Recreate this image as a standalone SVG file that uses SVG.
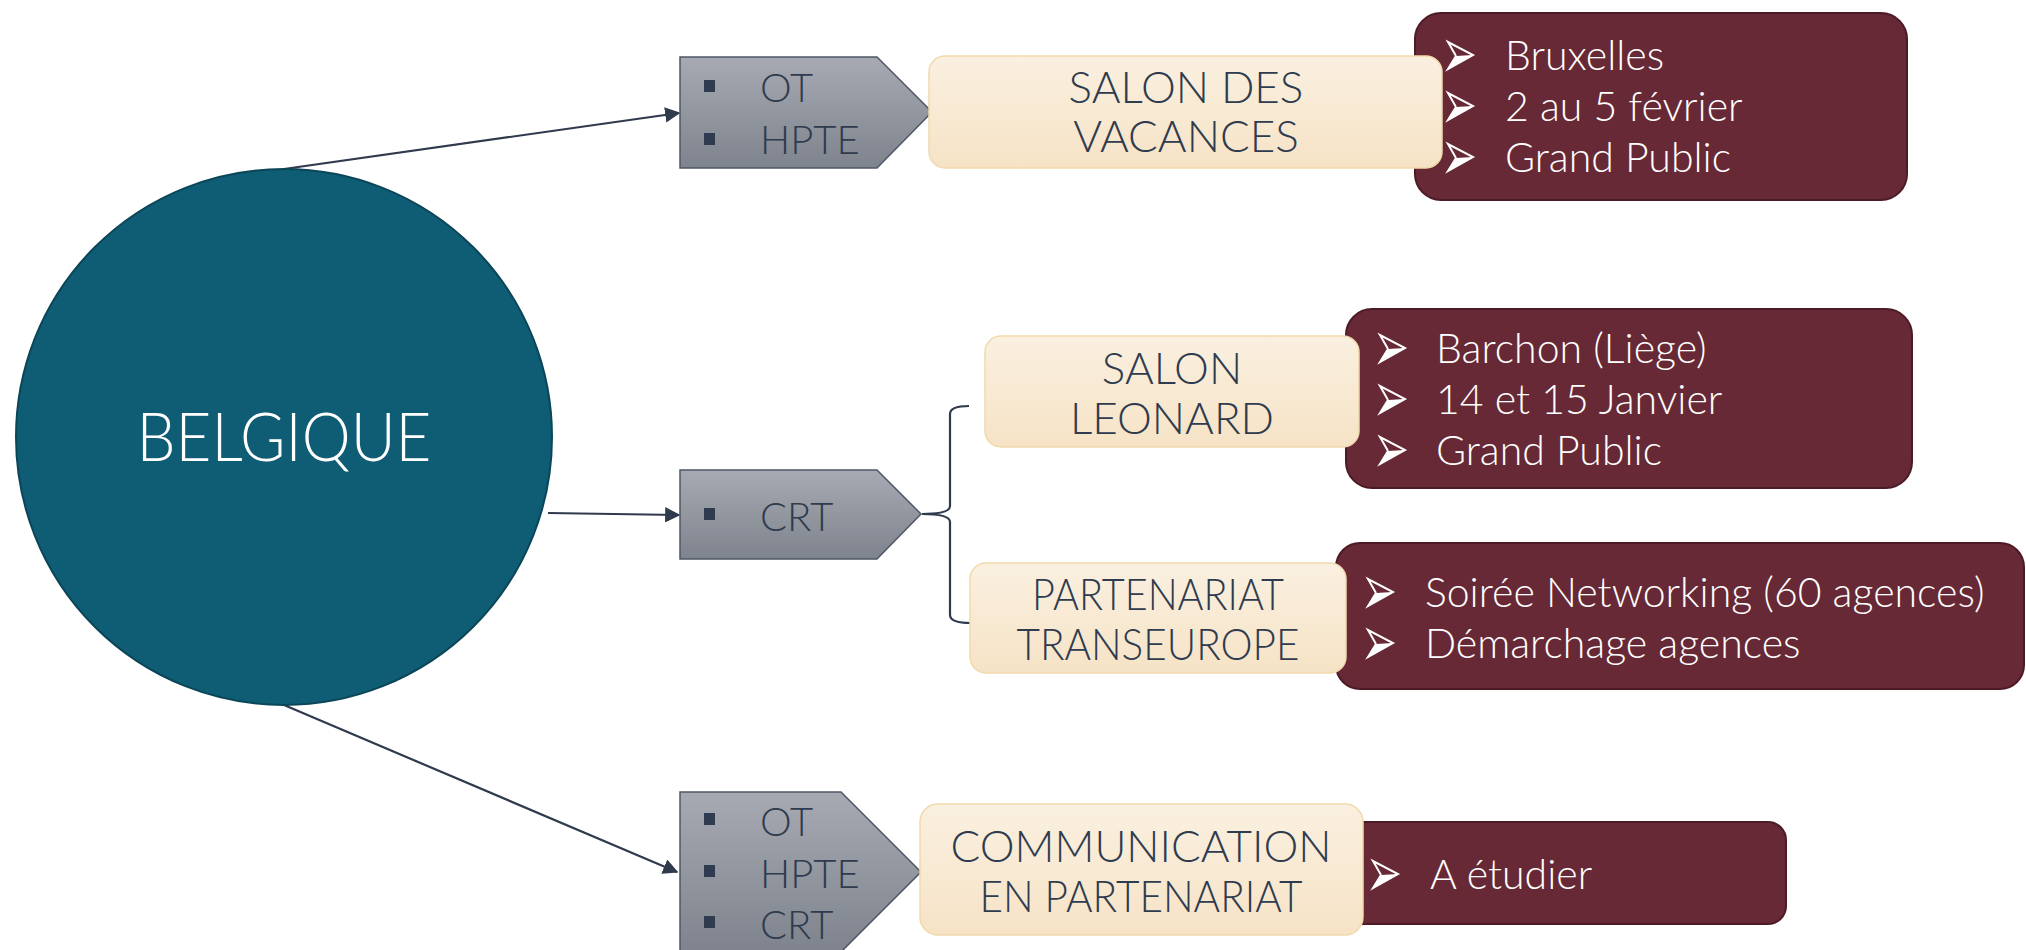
<svg xmlns="http://www.w3.org/2000/svg" width="2026" height="950" viewBox="0 0 2026 950">
<defs>
<style>
.dark{font-family:Lato,"Liberation Sans",sans-serif;font-weight:300;fill:#2F3B4E}
.beige-t{font-size:44px;text-anchor:middle}
.gray-t{font-size:40px}
.white{font-family:Lato,"Liberation Sans",sans-serif;font-weight:300;fill:#FFFFFF;font-size:41px}
.conn{stroke:#2F3A4D;stroke-width:2.2;fill:none}
.gray{fill:url(#gGray);stroke:#4F5766;stroke-width:1.5}
.beige{fill:url(#gBeige);stroke:#F1D9AC;stroke-width:1.5}
.maroon{fill:#672935;stroke:#4C1B26;stroke-width:2}
.sq{fill:#2F3B4E}
</style>
<linearGradient id="gGray" x1="0" y1="0" x2="0" y2="1">
<stop offset="0" stop-color="#A7AAB2"/>
<stop offset="1" stop-color="#7E838D"/>
</linearGradient>
<linearGradient id="gBeige" x1="0" y1="0" x2="0" y2="1">
<stop offset="0" stop-color="#FAF0E0"/>
<stop offset="1" stop-color="#F6E3C6"/>
</linearGradient>
<marker id="ah" viewBox="0 0 10 10" refX="9" refY="5" markerWidth="7" markerHeight="7" orient="auto" markerUnits="strokeWidth">
<path d="M0,0 L10,5 L0,10 z" fill="#2F3A4D"/>
</marker>
<g id="blt">
<polygon points="-4,1 13,0 -12,14" fill="#FFFFFF"/>
<polyline points="-4,1 -12,-13 13,0 -12,14 -4,1" fill="none" stroke="#FFFFFF" stroke-width="2" stroke-linejoin="miter"/>
</g>
</defs>

<rect width="2026" height="950" fill="#FFFFFF"/>

<g id="connectors">
<line class="conn" x1="284" y1="169" x2="679" y2="113" marker-end="url(#ah)"/>
<line class="conn" x1="548" y1="513" x2="679" y2="515" marker-end="url(#ah)"/>
<line class="conn" x1="284" y1="705" x2="677" y2="872" marker-end="url(#ah)"/>
<path class="conn" stroke-width="1.5" d="M969,406 Q950,406 950,414 L950,506 Q950,514 922,514 Q950,514 950,522 L950,615 Q950,623 971,623"/>
</g>

<g id="belgique">
<circle cx="284" cy="437" r="268" fill="#0F5C75" stroke="#0B4658" stroke-width="2"/>
<text x="284" y="461" text-anchor="middle" font-family="Lato,'Liberation Sans',sans-serif" font-weight="300" font-size="67" fill="#FFFFFF" textLength="295" lengthAdjust="spacingAndGlyphs">BELGIQUE</text>
</g>

<g id="gray1">
<polygon class="gray" points="680,57 877,57 932,112 877,168 680,168"/>
<rect class="sq" x="704" y="80" width="11" height="12"/>
<rect class="sq" x="704" y="133" width="11" height="12"/>
<text class="dark gray-t" x="760" y="102">OT</text>
<text class="dark gray-t" x="760" y="154">HPTE</text>
</g>

<g id="gray2">
<polygon class="gray" points="680,470 877,470 921,514 877,559 680,559"/>
<rect class="sq" x="704" y="508" width="11" height="12"/>
<text class="dark gray-t" x="760" y="531">CRT</text>
</g>

<g id="gray3">
<polygon class="gray" points="680,792 841,792 921,872 841,952 680,952"/>
<rect class="sq" x="704" y="813" width="11" height="12"/>
<rect class="sq" x="704" y="865" width="11" height="12"/>
<rect class="sq" x="704" y="916" width="11" height="12"/>
<text class="dark gray-t" x="760" y="836">OT</text>
<text class="dark gray-t" x="760" y="888">HPTE</text>
<text class="dark gray-t" x="760" y="939">CRT</text>
</g>

<g id="maroon1">
<rect class="maroon" x="1415" y="13" width="492" height="187" rx="26"/>
<use href="#blt" x="1460" y="55"/>
<use href="#blt" x="1460" y="106"/>
<use href="#blt" x="1460" y="157"/>
<text class="white" x="1505" y="70">Bruxelles</text>
<text class="white" x="1505" y="121">2 au 5 février</text>
<text class="white" x="1505" y="172">Grand Public</text>
</g>

<g id="salon-vacances">
<rect class="beige" x="929" y="56" width="513" height="112" rx="16"/>
<text class="dark beige-t" x="1186" y="103">SALON DES</text>
<text class="dark beige-t" x="1186" y="152">VACANCES</text>
</g>

<g id="maroon2">
<rect class="maroon" x="1346" y="309" width="566" height="179" rx="26"/>
<use href="#blt" x="1392" y="348"/>
<use href="#blt" x="1392" y="399"/>
<use href="#blt" x="1392" y="450"/>
<text class="white" x="1436" y="363">Barchon (Liège)</text>
<text class="white" x="1436" y="414">14 et 15 Janvier</text>
<text class="white" x="1436" y="465">Grand Public</text>
</g>

<g id="salon-leonard">
<rect class="beige" x="985" y="336" width="374" height="111" rx="16"/>
<text class="dark beige-t" x="1172" y="384">SALON</text>
<text class="dark beige-t" x="1172" y="434">LEONARD</text>
</g>

<g id="maroon3">
<rect class="maroon" x="1336" y="543" width="688" height="146" rx="24"/>
<use href="#blt" x="1380" y="592"/>
<use href="#blt" x="1380" y="643"/>
<text class="white" x="1425" y="607">Soirée Networking (60 agences)</text>
<text class="white" x="1425" y="658">Démarchage agences</text>
</g>

<g id="partenariat-transeurope">
<rect class="beige" x="970" y="563" width="376" height="110" rx="16"/>
<text class="dark beige-t" x="1158" y="610" textLength="252" lengthAdjust="spacingAndGlyphs">PARTENARIAT</text>
<text class="dark beige-t" x="1158" y="660" textLength="283" lengthAdjust="spacingAndGlyphs">TRANSEUROPE</text>
</g>

<g id="maroon4">
<rect class="maroon" x="1344" y="822" width="442" height="102" rx="18"/>
<use href="#blt" x="1385" y="874"/>
<text class="white" x="1430" y="889">A étudier</text>
</g>

<g id="communication">
<rect class="beige" x="920" y="804" width="443" height="131" rx="18"/>
<text class="dark beige-t" x="1141" y="862">COMMUNICATION</text>
<text class="dark beige-t" x="1141" y="912" textLength="323" lengthAdjust="spacingAndGlyphs">EN PARTENARIAT</text>
</g>
</svg>
